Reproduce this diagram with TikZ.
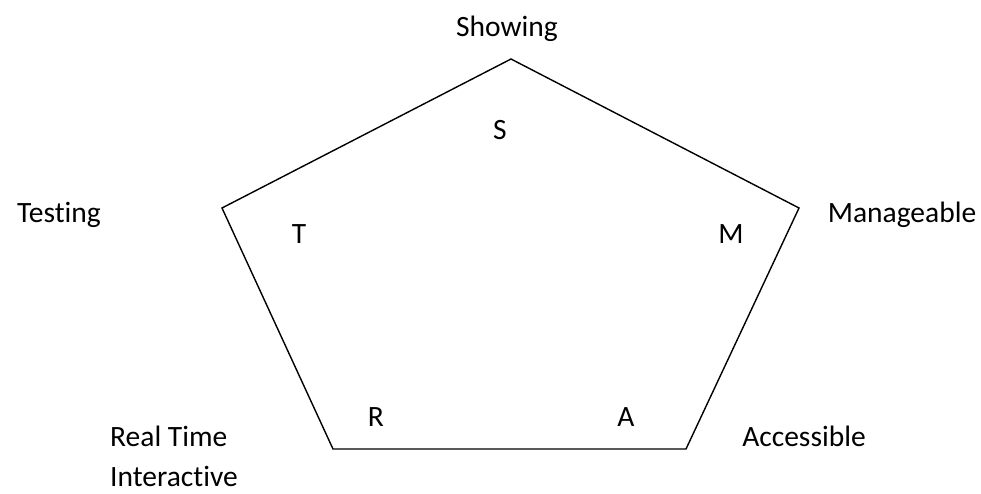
\documentclass[tikz,border=0pt]{standalone}
\usepackage{fontspec}
\setmainfont{Carlito}[Ligatures=NoCommon]
\begin{document}
\begin{tikzpicture}[x=1pt,y=-1pt,
  lbl/.style={font=\fontsize{29.5}{35}\selectfont,inner sep=0pt,anchor=base},
  edge/.style={line width=1.4pt,line join=miter}]
\useasboundingbox (0,0) rectangle (981,493);
\coordinate (vS) at (511,59);
\coordinate (vM) at (799,208);
\coordinate (vA) at (686,449);
\coordinate (vR) at (333,449);
\coordinate (vT) at (222,208);
\draw[edge] (vS) -- (vM) -- (vA) -- (vR) -- (vT) -- cycle;
\node[lbl] (showing) at (507,36) {Showing};
\node[lbl] (testing) at (59,222) {Testing};
\node[lbl] (manage) at (902,222) {Manageable};
\node[lbl] (access) at (804,446) {Accessible};
\node[lbl,anchor=base west] (real) at (110,446) {Real Time};
\node[lbl,anchor=base west] (inter) at (110,486) {Interactive};
\node[lbl] (s) at (500,139) {S};
\node[lbl] (t) at (299,243) {T};
\node[lbl] (m) at (731,243) {M};
\node[lbl] (r) at (376,426) {R};
\node[lbl] (a) at (626,426) {A};
\end{tikzpicture}
\end{document}
